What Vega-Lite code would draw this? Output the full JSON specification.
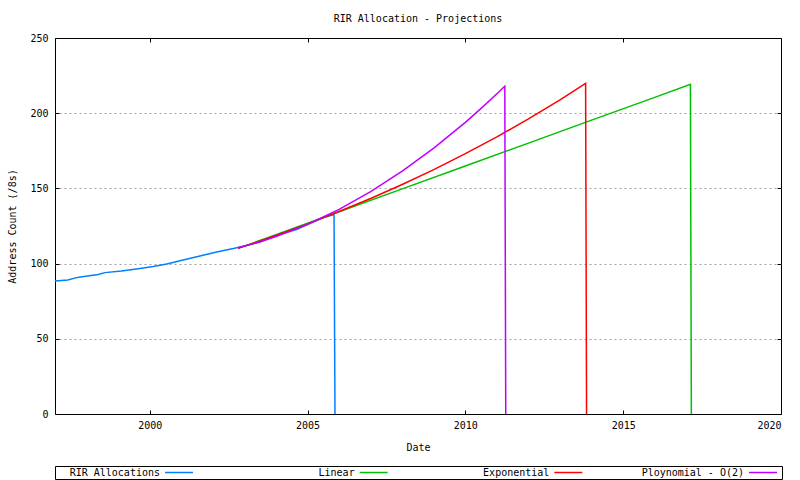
{
  "$schema": "https://vega.github.io/schema/vega-lite/v6.json",
  "background": "white",
  "padding": {"left": 7, "top": 13, "right": 2, "bottom": 0},
  "config": {
    "font": "DejaVu Sans Mono",
    "view": {"stroke": "black", "strokeWidth": 1},
    "axis": {
      "labelFont": "DejaVu Sans Mono",
      "labelFontSize": 10,
      "labelColor": "black",
      "titleFont": "DejaVu Sans Mono",
      "titleFontSize": 10,
      "titleFontWeight": "normal",
      "titleColor": "black",
      "tickColor": "black",
      "domain": false
    },
    "text": {"font": "DejaVu Sans Mono", "fontSize": 10}
  },
  "spacing": 12,
  "datasets": {
    "alloc": [
      {"series": "RIR Allocations", "year": 1997.0, "count": 88.5},
      {"series": "RIR Allocations", "year": 1997.4, "count": 89.1},
      {"series": "RIR Allocations", "year": 1997.75, "count": 91.0},
      {"series": "RIR Allocations", "year": 1998.37, "count": 92.7},
      {"series": "RIR Allocations", "year": 1998.58, "count": 94.0},
      {"series": "RIR Allocations", "year": 1999.11, "count": 95.1},
      {"series": "RIR Allocations", "year": 1999.69, "count": 96.7},
      {"series": "RIR Allocations", "year": 2000.11, "count": 98.0},
      {"series": "RIR Allocations", "year": 2000.54, "count": 99.7},
      {"series": "RIR Allocations", "year": 2001.06, "count": 102.4},
      {"series": "RIR Allocations", "year": 2001.59, "count": 105.0},
      {"series": "RIR Allocations", "year": 2002.12, "count": 107.7},
      {"series": "RIR Allocations", "year": 2002.65, "count": 110.0},
      {"series": "RIR Allocations", "year": 2003.0, "count": 111.7},
      {"series": "RIR Allocations", "year": 2003.49, "count": 114.3},
      {"series": "RIR Allocations", "year": 2004.12, "count": 119.4},
      {"series": "RIR Allocations", "year": 2004.65, "count": 122.7},
      {"series": "RIR Allocations", "year": 2005.07, "count": 126.7},
      {"series": "RIR Allocations", "year": 2005.49, "count": 130.5},
      {"series": "RIR Allocations", "year": 2005.84, "count": 132.6},
      {"series": "RIR Allocations", "year": 2005.87, "count": 0},
      {"series": "Linear", "year": 2002.8, "count": 110.1},
      {"series": "Linear", "year": 2004, "count": 119.2},
      {"series": "Linear", "year": 2006, "count": 134.5},
      {"series": "Linear", "year": 2008, "count": 149.7},
      {"series": "Linear", "year": 2010, "count": 164.9},
      {"series": "Linear", "year": 2012, "count": 180.1},
      {"series": "Linear", "year": 2014, "count": 195.4},
      {"series": "Linear", "year": 2016, "count": 210.5},
      {"series": "Linear", "year": 2017.13, "count": 219.2},
      {"series": "Linear", "year": 2017.16, "count": 0},
      {"series": "Exponential", "year": 2002.8, "count": 110.1},
      {"series": "Exponential", "year": 2004, "count": 118.7},
      {"series": "Exponential", "year": 2005, "count": 126.4},
      {"series": "Exponential", "year": 2006, "count": 134.6},
      {"series": "Exponential", "year": 2007, "count": 143.3},
      {"series": "Exponential", "year": 2008, "count": 152.6},
      {"series": "Exponential", "year": 2009, "count": 162.5},
      {"series": "Exponential", "year": 2010, "count": 173.1},
      {"series": "Exponential", "year": 2011, "count": 184.3},
      {"series": "Exponential", "year": 2012, "count": 196.2},
      {"series": "Exponential", "year": 2013, "count": 208.9},
      {"series": "Exponential", "year": 2013.81, "count": 219.9},
      {"series": "Exponential", "year": 2013.84, "count": 0},
      {"series": "Ploynomial - O(2)", "year": 2002.8, "count": 110.5},
      {"series": "Ploynomial - O(2)", "year": 2003.5, "count": 114.5},
      {"series": "Ploynomial - O(2)", "year": 2004, "count": 118.0},
      {"series": "Ploynomial - O(2)", "year": 2005, "count": 126.1},
      {"series": "Ploynomial - O(2)", "year": 2006, "count": 136.1},
      {"series": "Ploynomial - O(2)", "year": 2007, "count": 147.9},
      {"series": "Ploynomial - O(2)", "year": 2008, "count": 161.5},
      {"series": "Ploynomial - O(2)", "year": 2009, "count": 176.8},
      {"series": "Ploynomial - O(2)", "year": 2010, "count": 193.9},
      {"series": "Ploynomial - O(2)", "year": 2010.5, "count": 203.2},
      {"series": "Ploynomial - O(2)", "year": 2011, "count": 212.9},
      {"series": "Ploynomial - O(2)", "year": 2011.25, "count": 217.9},
      {"series": "Ploynomial - O(2)", "year": 2011.28, "count": 0}
    ]
  },
  "vconcat": [
    {
      "width": 726,
      "height": 376,
      "title": {
        "text": "RIR Allocation - Projections",
        "font": "DejaVu Sans Mono",
        "fontSize": 10,
        "fontWeight": "normal",
        "color": "black",
        "anchor": "middle",
        "offset": 9
      },
      "data": {"name": "alloc"},
      "resolve": {"axis": {"x": "independent", "y": "independent"}},
      "layer": [
        {
          "transform": [{"filter": "datum.series === 'RIR Allocations'"}],
          "mark": {"type": "line", "strokeWidth": 1.5},
          "encoding": {
            "x": {
              "field": "year", "type": "quantitative",
              "scale": {"domain": [1997, 2020], "nice": false, "zero": false},
              "axis": {"orient": "bottom", "values": [2000, 2005, 2010, 2015, 2020], "format": "d", "tickSize": -4, "labelPadding": 10, "title": "Date", "titlePadding": 12, "grid": false}
            },
            "y": {
              "field": "count", "type": "quantitative",
              "scale": {"domain": [0, 250], "nice": false},
              "axis": {"orient": "left", "values": [0, 50, 100, 150, 200, 250], "tickSize": -4, "labelPadding": 11, "title": "Address Count (/8s)", "titlePadding": 12, "grid": false}
            },
            "color": {
              "field": "series", "type": "nominal",
              "scale": {"domain": ["RIR Allocations", "Linear", "Exponential", "Ploynomial - O(2)"], "range": ["#0080ff", "#00c000", "#ff0000", "#c000ff"]},
              "legend": null
            }
          }
        },
        {
          "transform": [{"filter": "datum.series !== 'RIR Allocations'"}],
          "mark": {"type": "line", "strokeWidth": 1.5},
          "encoding": {
            "x": {
              "field": "year", "type": "quantitative",
              "scale": {"domain": [1997, 2020], "nice": false, "zero": false},
              "axis": {"orient": "top", "values": [2000, 2005, 2010, 2015, 2020], "tickSize": -4, "labels": false, "title": null, "grid": false}
            },
            "y": {
              "field": "count", "type": "quantitative",
              "scale": {"domain": [0, 250], "nice": false},
              "axis": {"orient": "right", "values": [50, 100, 150, 200], "tickSize": -4, "labels": false, "title": null, "grid": true, "gridColor": "#a0a0a0", "gridDash": [2, 3], "gridWidth": 1}
            },
            "color": {
              "field": "series", "type": "nominal",
              "scale": {"domain": ["RIR Allocations", "Linear", "Exponential", "Ploynomial - O(2)"], "range": ["#0080ff", "#00c000", "#ff0000", "#c000ff"]},
              "legend": null
            }
          }
        }
      ]
    },
    {
      "width": 727,
      "height": 13,
      "data": {"name": "alloc"},
      "transform": [{"aggregate": [{"op": "count", "as": "n"}], "groupby": ["series"]}],
      "layer": [
        {
          "mark": {"type": "text", "align": "right", "baseline": "middle", "dx": -33, "color": "black"},
          "encoding": {
            "x": {
              "field": "series", "type": "nominal",
              "scale": {"type": "point", "padding": 0, "domain": ["RIR Allocations", "Linear", "Exponential", "Ploynomial - O(2)"], "range": [138, 722]},
              "axis": null
            },
            "text": {"field": "series"}
          }
        },
        {
          "mark": {"type": "point", "shape": "stroke", "size": 784, "filled": false, "strokeWidth": 1.5, "opacity": 1, "xOffset": -14},
          "encoding": {
            "x": {
              "field": "series", "type": "nominal",
              "scale": {"type": "point", "padding": 0, "domain": ["RIR Allocations", "Linear", "Exponential", "Ploynomial - O(2)"], "range": [138, 722]},
              "axis": null
            },
            "color": {
              "field": "series", "type": "nominal",
              "scale": {"domain": ["RIR Allocations", "Linear", "Exponential", "Ploynomial - O(2)"], "range": ["#0080ff", "#00c000", "#ff0000", "#c000ff"]},
              "legend": null
            }
          }
        }
      ]
    }
  ]
}
